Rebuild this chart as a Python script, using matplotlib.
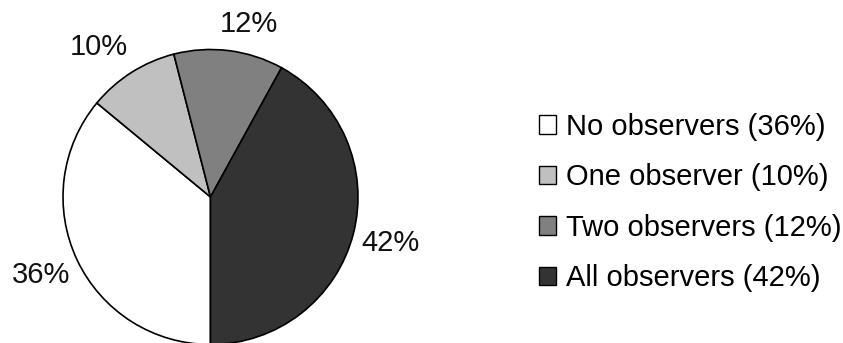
import matplotlib.pyplot as plt
from matplotlib.patches import Patch

plt.rcParams['font.family'] = ['Liberation Sans', 'DejaVu Sans']

# ---- data ----
categories = ['No observers', 'One observer', 'Two observers', 'All observers']
shares = [36, 10, 12, 42]
colors = ['#ffffff', '#c0c0c0', '#808080', '#333333']

# label positions (in pie-radius units) as placed in the original
label_pos = [(-1.15, -0.53), (-0.76, 1.02), (0.26, 1.17), (1.22, -0.31)]

W, H = 843, 343
fig = plt.figure(figsize=(W / 100, H / 100), dpi=100)

# pie centred at (210.5, 197) px, radius ~147.5 px
r_px = 147.5
pad = 1.02
side = 2 * pad * r_px
cx, cy = 210.5, H - 197
ax = fig.add_axes([(cx - side / 2) / W, (cy - side / 2) / H, side / W, side / H])

wedges, texts, autotexts = ax.pie(
    shares, colors=colors, startangle=-90, counterclock=False,
    autopct='%d%%', pctdistance=1.25,
    wedgeprops=dict(edgecolor='black', linewidth=1.2),
    textprops=dict(fontsize=21, color='#111111'))
for t, p in zip(autotexts, label_pos):
    t.set_position(p)
ax.set_xlim(-pad, pad)
ax.set_ylim(-pad, pad)
ax.set_aspect('equal')
for w in wedges:
    w.set_clip_on(False)

handles = [Patch(facecolor=c, edgecolor='black', linewidth=1.0) for c in colors]
labels = [f'{c} ({s}%)' for c, s in zip(categories, shares)]
fig.legend(handles, labels, loc='center left', bbox_to_anchor=(539 / W, (H - 202.5) / H),
           frameon=False, fontsize=21, handlelength=0.58, handleheight=0.58,
           handletextpad=0.33, labelspacing=0.77, borderpad=0, borderaxespad=0)

fig.savefig('out.png', dpi=100)
